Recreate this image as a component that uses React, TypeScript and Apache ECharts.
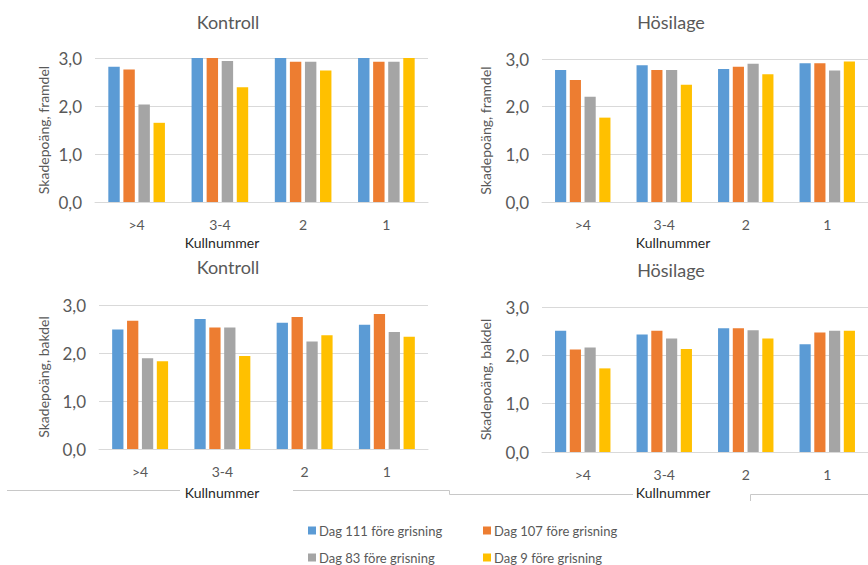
import React, { useEffect, useRef } from "react";
import * as echarts from "echarts";

const categories = [">4", "3-4", "2", "1"];
const seriesNames = [
  "Dag 111 före grisning",
  "Dag 107 före grisning",
  "Dag 83 före grisning",
  "Dag 9 före grisning",
];
const colors = ["#5B9BD5", "#ED7D31", "#A5A5A5", "#FFC000"];
const yTicks = [0, 1, 2, 3];

// Kontroll, framdel
const kontrollFramdel = [
  [2.82, 3.0, 3.0, 3.0],
  [2.76, 3.0, 2.92, 2.92],
  [2.03, 2.94, 2.92, 2.92],
  [1.65, 2.39, 2.74, 3.0],
];
// Hösilage, framdel
const hosilageFramdel = [
  [2.77, 2.87, 2.79, 2.91],
  [2.56, 2.77, 2.84, 2.91],
  [2.21, 2.77, 2.9, 2.76],
  [1.77, 2.46, 2.68, 2.95],
];
// Kontroll, bakdel
const kontrollBakdel = [
  [2.49, 2.71, 2.63, 2.59],
  [2.67, 2.53, 2.75, 2.81],
  [1.89, 2.53, 2.24, 2.44],
  [1.83, 1.94, 2.37, 2.34],
];
// Hösilage, bakdel
const hosilageBakdel = [
  [2.51, 2.43, 2.56, 2.23],
  [2.12, 2.51, 2.56, 2.47],
  [2.16, 2.35, 2.52, 2.51],
  [1.73, 2.13, 2.35, 2.51],
];

const panelTitles = ["Kontroll", "Hösilage", "Kontroll", "Hösilage"];
const yNames = [
  "Skadepoäng, framdel",
  "Skadepoäng, framdel",
  "Skadepoäng, bakdel",
  "Skadepoäng, bakdel",
];
const xName = "Kullnummer";

const FONT = "Lato, 'Open Sans', sans-serif";
const GRAY = "#595959";

export default function App() {
  const ref = useRef<HTMLDivElement>(null);
  useEffect(() => {
    if (!ref.current) return;
    const chart = echarts.init(ref.current, undefined, { renderer: "svg" });
    const panels = [kontrollFramdel, hosilageFramdel, kontrollBakdel, hosilageBakdel];
    const grids = [
      { left: 95, top: 58, width: 333, height: 144 },
      { left: 542, top: 59, width: 326, height: 143 },
      { left: 99, top: 305, width: 329, height: 144 },
      { left: 542, top: 307, width: 326, height: 145 },
    ];
    const titlePos = [
      { x: 228, y: 24 },
      { x: 671, y: 24 },
      { x: 228, y: 269 },
      { x: 671, y: 272 },
    ];
    const xNamePos = [
      { x: 222, y: 242 },
      { x: 673, y: 242 },
      { x: 222, y: 492 },
      { x: 673, y: 492 },
    ];
    const series: any[] = [];
    panels.forEach((p, gi) => {
      p.forEach((vals, si) => {
        series.push({
          type: "bar",
          name: seriesNames[si],
          xAxisIndex: gi,
          yAxisIndex: gi,
          data: vals,
          barCategoryGap: "32%",
          barGap: "32%",
          itemStyle: { color: colors[si] },
          emphasis: { disabled: true },
        });
      });
    });
    const legendPos = [
      { left: 308, top: 524 },
      { left: 483, top: 524 },
      { left: 308, top: 551 },
      { left: 483, top: 551 },
    ];
    const option: any = {
      animation: false,
      backgroundColor: "#ffffff",
      textStyle: { fontFamily: FONT },
      title: titlePos.map((t, i) => ({
        text: panelTitles[i],
        left: t.x,
        top: t.y - 11,
        textAlign: "center",
        padding: 0,
        textStyle: { fontFamily: FONT, fontSize: 18, fontWeight: "normal", color: GRAY },
      })),
      legend: legendPos.map((l, i) => ({
        data: [seriesNames[i]],
        left: l.left,
        top: l.top,
        padding: 0,
        icon: "rect",
        itemWidth: 8,
        itemHeight: 8,
        itemGap: 0,
        selectedMode: false,
        textStyle: { fontFamily: FONT, fontSize: 13, color: GRAY, padding: [0, 0, 0, -2] },
      })),
      grid: grids,
      xAxis: grids.map((_, i) => ({
        type: "category",
        gridIndex: i,
        data: categories,
        axisLine: { show: true, lineStyle: { color: "#d9d9d9", width: 1 } },
        axisTick: { show: false },
        axisLabel: { color: GRAY, fontSize: 14, margin: 15, fontFamily: FONT },
      })),
      yAxis: grids.map((_, i) => ({
        type: "value",
        gridIndex: i,
        min: yTicks[0],
        max: yTicks[yTicks.length - 1],
        interval: 1,
        name: yNames[i],
        nameLocation: "middle",
        nameGap: i % 2 === 0 ? (i === 0 ? 45 : 49) : 50,
        nameTextStyle: { color: GRAY, fontSize: 14, fontFamily: FONT },
        axisLine: { show: false },
        axisTick: { show: false },
        splitLine: { lineStyle: { color: "#d9d9d9", width: 1 } },
        axisLabel: {
          color: GRAY,
          fontSize: 17,
          margin: 13,
          fontFamily: FONT,
          formatter: (v: number) => v.toFixed(1).replace(".", ","),
        },
      })),
      series,
      graphic: [
        ...xNamePos.map((p) => ({
          type: "text",
          x: p.x,
          y: p.y,
          style: {
            text: xName,
            fontFamily: FONT,
            fontSize: 14,
            fill: "#262626",
            textAlign: "center",
            textVerticalAlign: "middle",
          },
          silent: true,
        })),
        {
          type: "polyline",
          shape: { points: [[7, 490.5], [180, 490.5]] },
          style: { stroke: "#c8c8c8", lineWidth: 1, fill: "none" },
          silent: true,
        },
        {
          type: "polyline",
          shape: { points: [[293, 490.5], [449.5, 490.5], [449.5, 494.5], [633, 494.5]] },
          style: { stroke: "#c8c8c8", lineWidth: 1, fill: "none" },
          silent: true,
        },
        {
          type: "polyline",
          shape: { points: [[750.5, 501], [750.5, 494.5], [868, 494.5]] },
          style: { stroke: "#c8c8c8", lineWidth: 1, fill: "none" },
          silent: true,
        },
      ],
    };
    chart.setOption(option);
    return () => chart.dispose();
  }, []);
  return (
    <div
      ref={ref}
      style={{ position: "fixed", left: 0, top: 0, width: 868, height: 565 }}
    />
  );
}
